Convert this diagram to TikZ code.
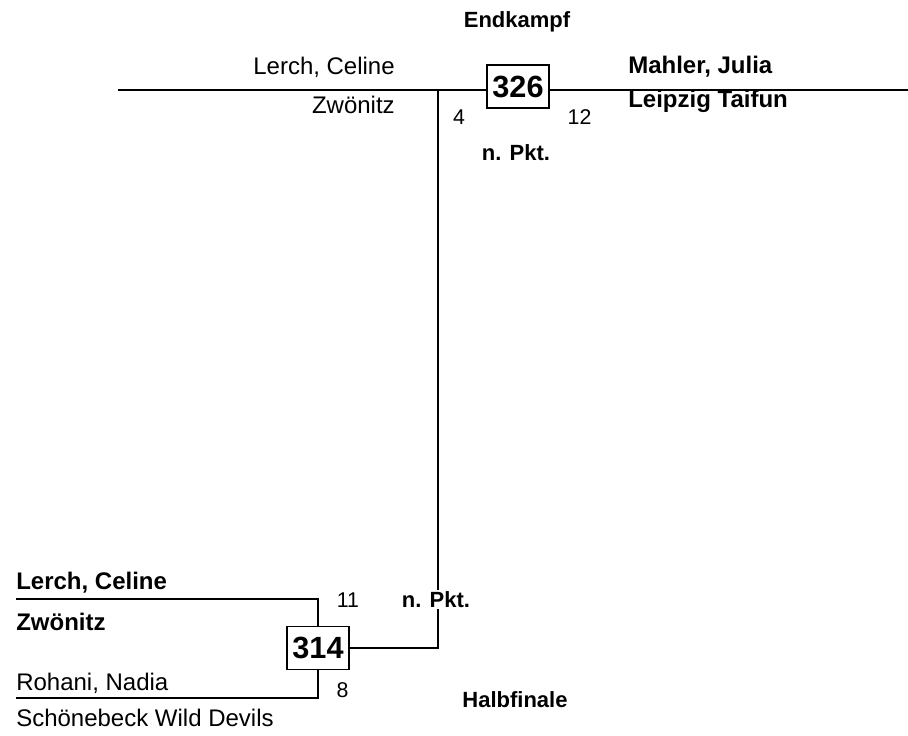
\documentclass[tikz,border=0pt]{standalone}
\usepackage{fontspec}
\setmainfont{Liberation Sans}
\begin{document}
\begin{tikzpicture}[x=0.75pt,y=-0.75pt,
  wire/.style={line width=1.5pt},
  namebox/.style={font=\fontsize{18}{21}\selectfont, inner sep=0pt},
  winner/.style={namebox, font=\fontsize{18}{21}\selectfont\bfseries},
  score/.style={font=\fontsize{16}{18}\selectfont, inner sep=0pt, anchor=base},
  roundlabel/.style={font=\fontsize{16.5}{18}\selectfont\bfseries, inner sep=0pt, anchor=base},
  pktlabel/.style={font=\fontsize{16.5}{18}\selectfont\bfseries, anchor=base},
  matchbox/.style={draw, line width=0.8pt, fill=white, inner sep=0pt,
    minimum width=46.5pt, minimum height=32.25pt,
    font=\fontsize{23}{25}\selectfont\bfseries}
]
\useasboundingbox (0,0) rectangle (908,736);

% ---------- top (final) ----------
\coordinate (tl) at (118,89.5);
\coordinate (tr) at (908,89.5);
\coordinate (tj) at (438,89.5);
\draw[wire] (tl) -- (tr);

\node[roundlabel] (endk) at (517,27.7) {Endkampf};
\node[namebox, anchor=base east] (tA1) at (395,74) {Lerch, Celine};
\node[namebox, anchor=base east] (tA2) at (395,113.3) {Zwönitz};
\node[winner, anchor=base west] (tB1) at (628,73.3) {Mahler, Julia};
\node[winner, anchor=base west] (tB2) at (628,107) {Leipzig Taifun};
\node[score] (s4) at (459,124) {4};
\node[score] (s12) at (579.5,124) {12};
\node[pktlabel, inner sep=0pt] (pktTop) at (516,160) {n. Pkt.};
\node[matchbox] (m326) at (518,86.5) {326};

% ---------- bottom (semi-final) ----------
\node[matchbox] (m314) at (318,648) {314};
\coordinate (b1) at (16,599);
\coordinate (b2) at (16,698);
\coordinate (bc) at (438,648);
\draw[wire] (b1) -| (m314.north);
\draw[wire] (b2) -| (m314.south);
\draw[wire] (m314.east) -- (bc) -- (tj);

\node[winner, anchor=base west] (bA1) at (16,589.3) {Lerch, Celine};
\node[winner, anchor=base west] (bA2) at (16,630) {Zwönitz};
\node[namebox, anchor=base west] (bB1) at (16,690) {Rohani, Nadia};
\node[namebox, anchor=base west] (bB2) at (16,726.7) {Schönebeck Wild Devils};
\node[score] (s11) at (348,607) {11};
\node[score] (s8) at (342.5,697) {8};
\node[pktlabel, fill=white, inner xsep=2pt, inner ysep=1pt] (pktBot) at (436,607) {n. Pkt.};
\node[roundlabel] (halb) at (515,707) {Halbfinale};
\end{tikzpicture}
\end{document}
